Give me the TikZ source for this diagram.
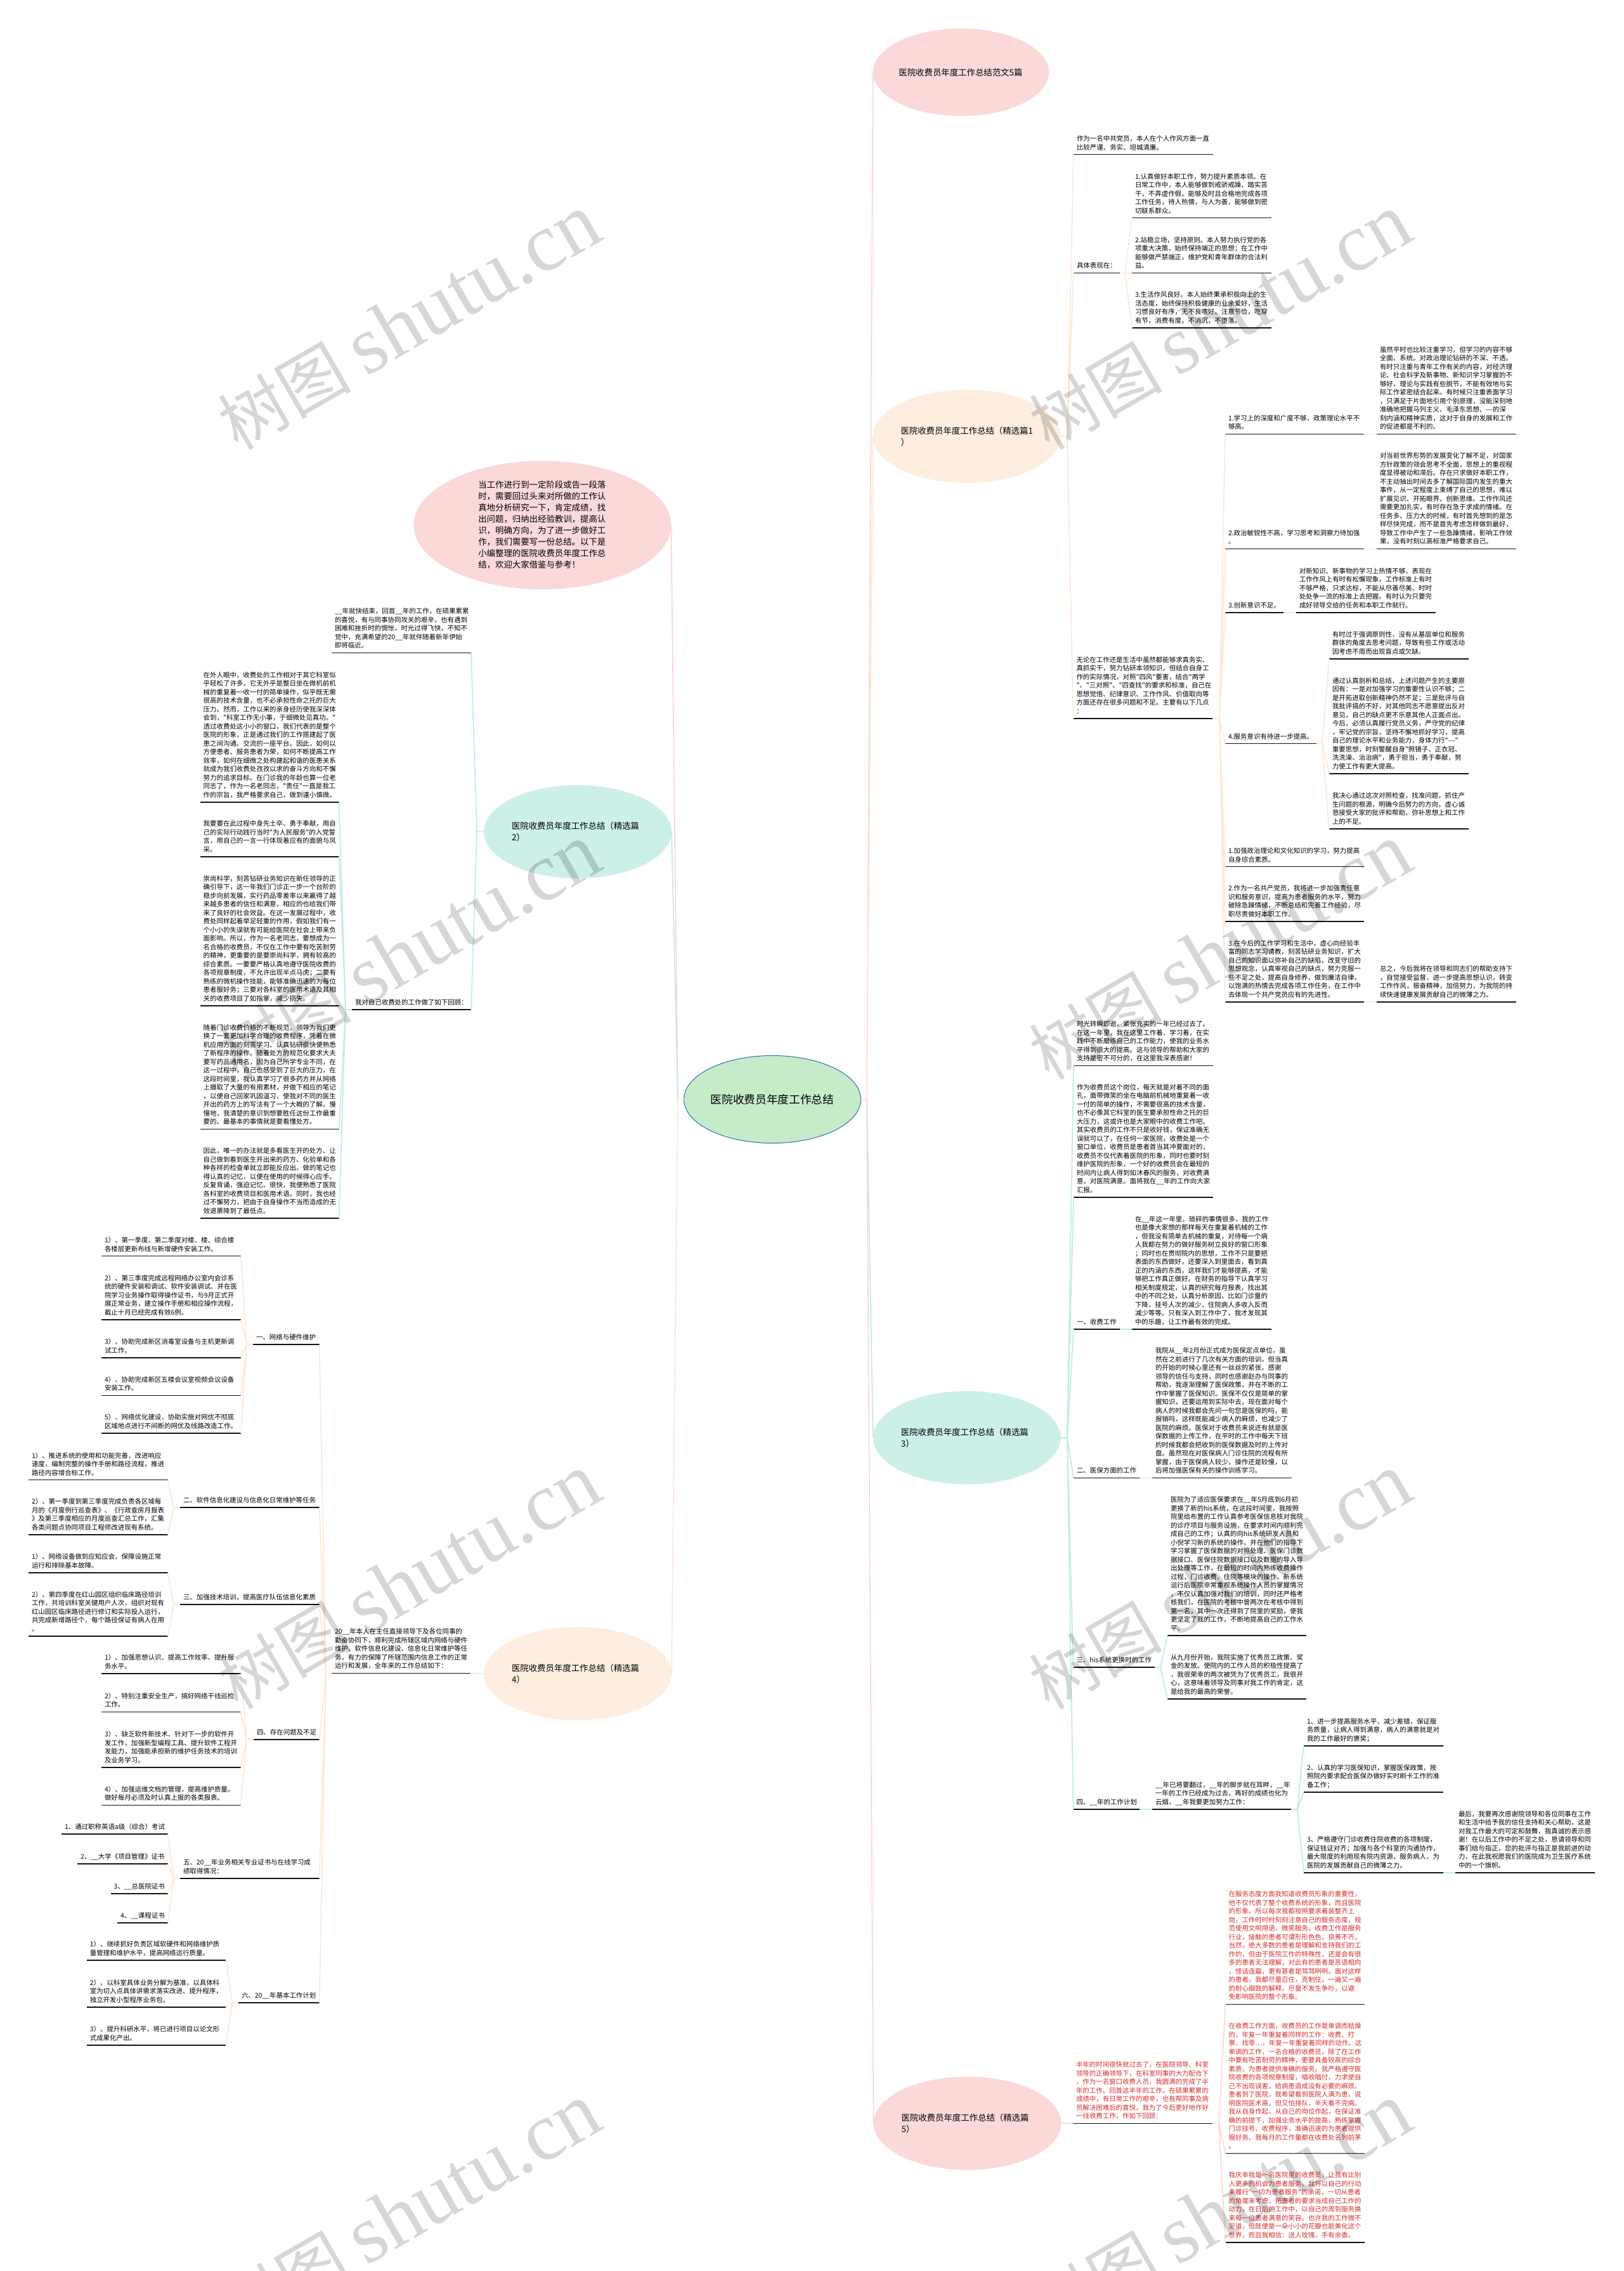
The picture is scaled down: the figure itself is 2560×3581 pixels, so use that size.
\documentclass[tikz,border=0pt]{standalone}
\usepackage{fontspec}
\usetikzlibrary{shapes.geometric}
\newfontfamily\cjk{Noto Sans CJK SC}
\newfontfamily\wmlat{Liberation Serif}
\definecolor{cpink}{HTML}{FBD9D9}
\definecolor{cpeach}{HTML}{FDEEDF}
\definecolor{cteal}{HTML}{CCF0E8}
\definecolor{cgreen}{HTML}{C6EBC9}
\definecolor{cblue}{HTML}{2A6FB0}
\definecolor{lpink}{HTML}{F9D5D5}
\definecolor{lpeach}{HTML}{FCE8D4}
\definecolor{lteal}{HTML}{BFEBE3}
\definecolor{cred}{HTML}{D92B2B}
\tikzset{
  leaf/.style={anchor=south west,inner xsep=5pt,inner ysep=3.5pt,outer sep=0pt,align=left,font=\cjk\fontsize{10.45}{13.5}\selectfont},
  ul/.style={draw=black!92,line width=1.6pt},
  big/.style={ellipse,inner sep=0pt,outer sep=0pt,minimum width=296pt,minimum height=147pt,align=left,text width=208pt,font=\cjk\fontsize{13.4}{18}\selectfont},
  lkpink/.style={draw=lpink,line width=1.6pt,line join=round},
  lkpeach/.style={draw=lpeach,line width=1.6pt,line join=round},
  lkteal/.style={draw=lteal,line width=1.6pt,line join=round},
  wm/.style={text=black,opacity=0.16,text opacity=0.16,inner sep=0pt}
}
\newcommand{\lf}[6][black]{%
  \pgfmathsetmacro\tw{#4-#3-10}%
  \node[leaf,text=#1,text width=\tw pt] (#2) at (#3,#5) {#6\strut};
  \draw[ul] (#2.south west) -- (#2.south east);
}
\begin{document}
\begin{tikzpicture}[x=1pt,y=-1pt]
\useasboundingbox (0,0) rectangle (2560,3581);
\fill[white] (0,0) rectangle (2560,3581);

% ---- big ellipses
\node[ellipse,draw=cblue,line width=1pt,fill=cgreen,inner sep=0pt,outer sep=0pt,minimum width=279pt,minimum height=138pt,font=\cjk\fontsize{17.7}{22}\selectfont] (root) at (1218,1733.5) {医院收费员年度工作总结};
\node[big,fill=cpink,minimum width=277pt,minimum height=138pt,text width=196pt] (title) at (1515.4,114) {医院收费员年度工作总结范文5篇};
\node[big,fill=cpink,minimum width=406pt,minimum height=202.6pt,text width=202pt] (intro) at (855.3,828) {当工作进行到一定阶段或告一段落\\时，需要回过头来对所做的工作认\\真地分析研究一下，肯定成绩，找\\出问题，归纳出经验教训，提高认\\识，明确方向，为了进一步做好工\\作，我们需要写一份总结。以下是\\小编整理的医院收费员年度工作总\\结，欢迎大家借鉴与参考！};
\node[big,fill=cpeach] (p1) at (1524.5,688) {医院收费员年度工作总结（精选篇1\\）};
\node[big,fill=cteal] (p2) at (911,1311.5) {医院收费员年度工作总结（精选篇\\2）};
\node[big,fill=cteal] (p3) at (1524.8,2267) {医院收费员年度工作总结（精选篇\\3）};
\node[big,fill=cpeach] (p4) at (911,2639) {医院收费员年度工作总结（精选篇\\4）};
\node[big,fill=cpink] (p5) at (1525.5,3348) {医院收费员年度工作总结（精选篇\\5）};

% ---- branch 1
\lf{a1}{1693}{1912.5}{243.6}{作为一名中共党员，本人在个人作风方面一直\\比较严谨、务实、坦城清廉。}
\lf{a2}{1693}{1766}{430.4}{具体表现在：}
\lf{b1}{1785}{2005}{343.6}{1.认真做好本职工作，努力提升素质本领。在\\日常工作中，本人能够做到戒骄戒躁，踏实苦\\干，不弄虚作假，能够及时且合格地完成各项\\工作任务，待人热情，与人为善，能够做到密\\切联系群众。}
\lf{b2}{1785}{2005}{430.4}{2.站稳立场，坚持原则。本人努力执行党的各\\项重大决策，始终保持端正的思想；在工作中\\能够做严禁端正，维护党和青年群体的合法利\\益。}
\lf{b3}{1785}{2005}{516.8}{3.生活作风良好。本人始终秉承积极向上的生\\活态度，始终保持积极健康的业余爱好，生活\\习惯良好有序，无不良嗜好。注意节俭，吃穿\\有节，消费有度，不消沉，不堕落。}
\lf{a3}{1692.5}{1912}{1132.8}{无论在工作还是生活中虽然都能够求真务实、\\真抓实干，努力钻研本领知识，但结合自身工\\作的实际情况，对照"四风"要害，结合"两学\\"、"三对照"、"四查找"的要求和标准，自己在\\思想觉悟、纪律意识、工作作风、价值取向等\\方面还存在很多问题和不足。主要有以下几点\\：}
\lf{c1}{1932}{2151}{684.5}{1.学习上的深度和广度不够，政策理论水平不\\够高。}
\lf{c1x}{2171}{2391}{684.5}{虽然平时也比较注重学习，但学习的内容不够\\全面、系统。对政治理论钻研的不深、不透。\\有时只注重与青年工作有关的内容，对经济理\\论、社会科学及新事物、新知识学习掌握的不\\够好，理论与实践有些脱节，不能有效地与实\\际工作紧密结合起来。有时候只注重表面学习\\，只满足于片面地引用个别原理，没能深刻地\\准确地把握马列主义、毛泽东思想、---的深\\刻内涵和精神实质，这对于自身的发展和工作\\的促进都是不利的。}
\lf{c2}{1932}{2151}{865.5}{2.政治敏锐性不高，学习思考和洞察力待加强\\。}
\lf{c2x}{2171}{2391}{865.5}{对当前世界形势的发展变化了解不足，对国家\\方针政策的领会思考不全面，思想上的重视程\\度显得被动和滞后。存在只求做好本职工作，\\不主动抽出时间去多了解国际国内发生的重大\\事件，从一定程度上束缚了自己的思想，难以\\扩展见识、开拓眼界、创新思维。工作作风还\\需要更加扎实，有时存在急于求成的情绪。在\\任务多、压力大的时候，有时首先想到的是怎\\样尽快完成，而不是首先考虑怎样做到最好，\\导致工作中产生了一些急躁情绪，影响工作效\\果，没有时刻以高标准严格要求自己。}
\lf{c3}{1932}{2024}{965.7}{3.创新意识不足。}
\lf{c3x}{2044}{2264}{965.7}{对新知识、新事物的学习上热情不够，表现在\\工作作风上有时有松懈现象，工作标准上有时\\不够严格，只求达标，不能从尽善尽美、时时\\处处争一流的标准上去把握。有时认为只要完\\成好领导交给的任务和本职工作就行。}
\lf{c4}{1932}{2076}{1172.6}{4.服务意识有待进一步提高。}
\lf{d1}{2096}{2316}{1038.7}{有时过于强调原则性，没有从基层单位和服务\\群体的角度去思考问题，导致有些工作或活动\\因考虑不周而出现盲点或欠缺。}
\lf{d2}{2096}{2316}{1220}{通过认真剖析和总结，上述问题产生的主要原\\因有：一是对加强学习的重要性认识不够；二\\是开拓进取创新精神仍然不足；三是批评与自\\我批评搞的不好，对其他同志不愿意提出反对\\意见，自己的缺点更不乐意其他人正面点出。\\今后，必须认真履行党员义务，严守党的纪律\\，牢记党的宗旨，坚持不懈地抓好学习，提高\\自己的理论水平和业务能力，身体力行"---"\\重要思想，时刻警醒自身"照镜子、正衣冠、\\洗洗澡、治治病"，勇于担当，勇于奉献，努\\力使工作有更大提高。}
\lf{d3}{2096}{2316}{1307}{我决心通过这次对照检查，找准问题，抓住产\\生问题的根源，明确今后努力的方向，虚心诚\\恳接受大家的批评和帮助，弥补思想上和工作\\上的不足。}
\lf{c5}{1932}{2151}{1366.6}{1.加强政治理论和文化知识的学习，努力提高\\自身综合素质。}
\lf{c6}{1932}{2151}{1452.7}{2.作为一名共产党员，我将进一步加强责任意\\识和服务意识，提高为患者服务的水平，努力\\破除急躁情绪，不断总结和完善工作经验，尽\\职尽责做好本职工作。}
\lf{c7}{1932}{2151}{1580}{3.在今后的工作学习和生活中，虚心向经验丰\\富的同志学习请教，刻苦钻研业务知识，扩大\\自己的知识面以弥补自己的缺陷，改变守旧的\\思想观念，认真审视自己的缺点，努力克服一\\些不足之处，提高自身修养，做到廉洁自律，\\以饱满的热情去完成各项工作任务，在工作中\\去体现一个共产党员应有的先进性。}
\lf{c7x}{2171}{2391}{1580}{总之，今后我将在领导和同志们的帮助支持下\\，自觉接受监督，进一步提高思想认识，转变\\工作作风，振奋精神，加倍努力，为我院的持\\续快速健康发展贡献自己的微薄之力。}

% ---- branch 3
\lf{e1}{1693}{1912.5}{1680.4}{时光转瞬即逝，紧张充实的一年已经过去了。\\在这一年里，我在这里工作着、学习着，在实\\践中不断磨练自己的工作能力，使我的业务水\\平得到很大的提高。这与领导的帮助和大家的\\支持是密不可分的，在这里我深表感谢！}
\lf{e2}{1693}{1912.5}{1888}{作为收费员这个岗位，每天就是对着不同的面\\孔，面带微笑的坐在电脑前机械地重复着一收\\一付的简单的操作，不需要很高的技术含量，\\也不必像其它科室的医生要承担性命之托的巨\\大压力，这或许也是大家眼中的收费工作吧。\\其实收费员的工作不只是收好钱，保证准确无\\误就可以了，在任何一家医院，收费处是一个\\窗口单位，收费员是患者首当其冲要面对的，\\收费员不仅代表着医院的形象，同时也要时刻\\维护医院的形象，一个好的收费员会在最短的\\时间内让病人得到如沐春风的服务，对收费满\\意，对医院满意。面将我在\_\_年的工作向大家\\汇报。}
\lf{e3}{1693}{1766}{2096}{一、收费工作}
\lf{e3x}{1785}{2005}{2096}{在\_\_年这一年里，琐碎的事情很多，我的工作\\也是像大家想的那样每天在重复着机械的工作\\，但我没有简单去机械的重复，对待每一个病\\人我都在努力的做好服务树立良好的窗口形象\\；同时也在贯彻院内的思想，工作不只是要把\\表面的东西做好，还要深入到里面去，看到真\\正的内涵的东西，这样我们才能够提高，才能\\够把工作真正做好。在财务的指导下认真学习\\相关制度规定，认真的研究每月报表，找出其\\中的不同之处，认真分析原因，比如门诊量的\\下降，挂号人次的减少，住院病人多收入反而\\减少等等。只有深入到工作中了，我才发现其\\中的乐趣，让工作最有效的完成。}
\lf{e4}{1693}{1797}{2330.5}{二、医保方面的工作}
\lf{e4x}{1817}{2037}{2330.5}{我院从\_\_年2月份正式成为医保定点单位，虽\\然在之前进行了几次有关方面的培训，但当真\\的开始的时候心里还有一丝丝的紧张，感谢\\领导的信任与支持，同时也感谢赵办与同事的\\帮助，我逐渐理解了医保政策，并在不断的工\\作中掌握了医保知识。医保不仅仅是简单的掌\\握知识，还要运用到实际中去，现在面对每个\\病人的时候我都会先问一句您是医保的吗，能\\报销吗，这样既能减少病人的麻烦，也减少了\\医院的麻烦。医保对于收费员来说还有就是医\\保数据的上传工作，在平时的工作中每天下班\\的时候我都会把收到的医保数据及时的上传对\\盘。虽然现在对医保病人门诊住院的流程有所\\掌握，由于医保病人较少，操作还是较慢，以\\后将加强医保有关的操作训练学习。}
\lf{e5}{1692.5}{1821}{2629}{三、his系统更换时的工作}
\lf{f1}{1841}{2060}{2579}{医院为了适应医保要求在\_\_年5月底到6月初\\更换了新的his系统，在这段时间里，我按照\\院里给布置的工作认真参考医保信息核对我院\\的诊疗项目与服务设施，在要求时间内顺利完\\成自己的工作；认真的向his系统研发人员和\\小倪学习新的系统的操作，并在他们的指导下\\学习掌握了医保数据的对照处理、医保门诊数\\据接口、医保住院数据接口以及数据的导入导\\出处理等工作，在最短的时间内熟练收费操作\\过程，门诊收费、住院等模块的操作。新系统\\运行后医院非常重视系统操作人员的掌握情况\\，不仅认真加强对我们的培训，同时还严格考\\核我们，在医院的考核中曾两次在考核中得到\\第一名，其中一次还得到了院里的奖励，使我\\更坚定了我的工作，不断地提高自己的工作水\\平。}
\lf{f2}{1841}{2060}{2679}{从九月份开始，我院实施了优秀员工政策、奖\\金的发放。使院内的工作人员的积极性提高了\\，我很荣幸的两次被凭为了优秀员工，我很开\\心，这意味着领导及同事对我工作的肯定，这\\是给我的最高的荣誉。}
\lf{e6}{1692.5}{1797}{2852.7}{四、\_\_年的工作计划}
\lf{e6x}{1817}{2036}{2852.7}{\_\_年已将要翻过，\_\_年的脚步就在耳畔，\_\_年\\一年的工作已经成为过去，再好的成绩也化为\\云烟，\_\_年我要更加努力工作：}
\lf{g1}{2056}{2275.5}{2752.7}{1、进一步提高服务水平，减少差错，保证服\\务质量，让病人得到满意，病人的满意就是对\\我的工作最好的褒奖；}
\lf{g2}{2056}{2275.5}{2826}{2、认真的学习医保知识，掌握医保政策，按\\照院内要求配合医保办做好实时刷卡工作的准\\备工作；}
\lf{g3}{2056}{2275.5}{2952.7}{3、严格遵守门诊收费住院收费的各项制度，\\保证钱证对齐；加强与各个科室的沟通协作，\\最大限度的利用现有院内资源，服务病人，为\\医院的发展贡献自己的微薄之力。}
\lf{g3x}{2295}{2515}{2952.7}{最后，我要再次感谢院领导和各位同事在工作\\和生活中给予我的信任支持和关心帮助，这是\\对我工作最大的可定和鼓舞，我真诚的表示感\\谢！在以后工作中的不足之处，恳请领导和同\\事们给与指正，您的批评与指正是我前进的动\\力，在此我祝愿我们的医院成为卫生医疗系统\\中的一个旗帜。}

% ---- branch 5
\lf[cred]{h1}{1692}{1912}{3348.4}{半年的时间很快就过去了，在医院领导、科室\\领导的正确领导下，在科室同事的大力配合下\\，作为一名窗口收费人员，我圆满的完成了半\\年的工作。回首这半年的工作，在硕果累累的\\成绩中，有日常工作的艰辛，也有帮同事及病\\员解决困难后的喜悦，我为了今后更好地作好\\一线收费工作，作如下回顾：}
\lf[cred]{j1}{1932.6}{2152}{3160.5}{在服务态度方面我知道收费员形象的重要性，\\他不仅代表了整个收费系统的形象，而且医院\\的形象。所以每次我都按照要求着装整齐上\\岗，工作时时时刻刻注意自己的服务态度，规\\范使用文明用语，微笑服务。收费工作是服务\\行业，接触的患者可谓形形色色，良莠不齐。\\当然，绝大多数的患者是理解和支持我们的工\\作的，但由于医院工作的特殊性，还是会有很\\多的患者无法理解，对此有的患者是恶语相向\\，怪话连篇，更有甚者是骂骂咧咧。面对这样\\的患者，我都尽量忍住，克制住，一遍又一遍\\的耐心细致的解释，尽量不发生争吵，以避\\免影响医院的整个形象。}
\lf[cred]{j2}{1932.6}{2152}{3395.5}{在收费工作方面，收费员的工作是单调而枯燥\\的，年复一年重复着同样的工作：收费、打\\票、找零…，年复一年重复着同样的动作。这\\单调的工作，一名合格的收费员，除了在工作\\中要有吃苦耐劳的精神，更要具备较高的综合\\素质，为患者提供准确的服务。我严格遵守医\\院收费的各项规章制度，唱收唱付，力求使自\\己不出现误差，给病患造成没有必要的麻烦。\\患者到了医院，既希望看到医院人满为患，说\\明医院医术高，但又怕排队，半天看不完病。\\我从自身作起，从自己的岗位作起，在保证准\\确的前提下，加强业务水平的提高，熟练掌握\\门诊挂号、收费程序，准确迅速的为患者提供\\服好务。我每月的工作量都在收费处名列前茅\\。}
\lf[cred]{j3}{1932.6}{2152}{3536}{我庆幸我是一名医院里的收费员，让我有比别\\人更多的机会为患者服务。我将以自己的行动\\来履行"一切为患者服务"的承诺，一切从患者\\的角度来考虑，把患者的要求当成自己工作的\\动力，在日后的工作中，以自己的周到服务换\\来每一位患者满意的笑容。也许我的工作微不\\足道，但既便是一朵小小的花瓣也能美化这个\\世界，而且我相信：送人玫瑰，手有余香。}

% ---- branch 2
\lf{k1}{523}{743}{1029.5}{\_\_年就快结束，回首\_\_年的工作，在硕果累累\\的喜悦，有与同事协同攻关的艰辛，也有遇到\\困难和挫折时的惆怅，时光过得飞快，不知不\\觉中，充满希望的20\_\_年就伴随着新年伊始\\即将临近。}
\lf{k2}{555}{743}{1592}{我对自己收费处的工作做了如下回顾：}
\lf{l1}{315.7}{534.6}{1264.8}{在外人眼中，收费处的工作相对于其它科室似\\乎轻松了许多，它无外乎是整日坐在微机前机\\械的重复着一收一付的简单操作，似乎既无需\\很高的技术含量，也不必承担性命之托的巨大\\压力。然而，工作以来的亲身经历使我深深体\\会到，"科室工作无小事，于细微处见真功。"\\透过收费处这小小的窗口，我们代表的是整个\\医院的形象，正是通过我们的工作搭建起了医\\患之间沟通、交流的一座平台。因此，如何以\\方便患者、服务患者为荣，如何不断提高工作\\效率，如何在细微之处构建起和谐的医患关系\\就成为我们收费处孜孜以求的奋斗方向和不懈\\努力的追求目标。在门诊我的年龄也算一位老\\同志了，作为一名老同志，"责任"一直是我工\\作的宗旨，我严格要求自己，做到谨小慎微。}
\lf{l2}{315.7}{534.6}{1350.7}{我要要在此过程中身先士卒、勇于奉献，用自\\己的实际行动践行当时"为人民服务"的入党誓\\言，用自己的一言一行体现着应有的面貌与风\\采。}
\lf{l3}{315.7}{534.6}{1585.7}{崇尚科学，刻苦钻研业务知识在新任领导的正\\确引导下，这一年我们门诊正一步一个台阶的\\稳步向前发展，实行药品零差率以来赢得了越\\来越多患者的信任和满意，相应的也给我们带\\来了良好的社会效益。在这一发展过程中，收\\费处同样起着举足轻重的作用，假如我们有一\\个小小的失误就有可能给医院在社会上带来负\\面影响。所以，作为一名老同志，要想成为一\\名合格的收费员，不仅在工作中要有吃苦耐劳\\的精神，更重要的是要崇尚科学，拥有较高的\\综合素质。一要要严格认真地遵守医院收费的\\各项规章制度，不允许出现半点马虎；二要有\\熟练的微机操作技能，能够准确迅速的为每位\\患者服好务；三要对各科室的医用术语及其相\\关的收费项目了如指掌，减少损失。}
\lf{l4}{315.7}{534.6}{1780.4}{随着门诊收费价格的不断规范，领导为我们更\\换了一套更加科学合理的收费程序，凭着在微\\机应用方面的刻苦学习、认真钻研很快便熟悉\\了新程序的操作。随着处方的规范化要求大夫\\要写药品通用名，因为自己所学专业不同，在\\这一过程中，自己也感受到了巨大的压力，在\\这段时间里，我认真学习了很多药方并从网络\\上摄取了大量的有用素材，并做下相应的笔记\\，以便自己回家巩固温习，使我对不同的医生\\开出的药方上的写法有了一个大概的了解。慢\\慢地，我清楚的意识到想要胜任这份工作最重\\要的、最基本的事情就是要看懂处方。}
\lf{l5}{315.7}{534.6}{1920.8}{因此，唯一的办法就是多看医生开的处方、让\\自己做到看到医生开出来的药方、化验单和各\\种各样的检查单就立即能反应出。做的笔记也\\得认真的记忆，以便在使用的时候得心应手。\\反复背诵，强迫记忆、很快，我便熟悉了医院\\各科室的收费项目和医用术语。同时，我也经\\过不懈努力，把由于自身操作不当而造成的无\\效退票降到了最低点。}

% ---- branch 4
\lf{m0}{523}{742}{2638.3}{20\_\_年本人在主任直接领导下及各位同事的\\勤奋协同下，顺利完成所辖区域内网络与硬件\\维护、软件信息化建设、信息化日常维护等任\\务，有力的保障了所辖范围内信息工作的正常\\运行和发展，全年来的工作总结如下：}
\lf{m1}{399}{503.6}{2120}{一、网络与硬件维护}
\lf{n1}{160}{380}{1980.6}{1）、第一季度、第二季度对楼、楼、综合楼\\各楼层更新布线与新增硬件安装工作。}
\lf{n2}{160}{380}{2080.8}{2）、第三季度完成远程网络办公室内会诊系\\统的硬件安装和调试、软件安装调试、并在医\\院学习业务操作取得操作证书，与9月正式开\\展正常业务，建立操作手册和相应操作流程，\\截止十月已经完成有效6例。}
\lf{n3}{160}{380}{2141}{3）、协助完成新区消毒室设备与主机更新调\\试工作。}
\lf{n4}{160}{380}{2200.5}{4）、协助完成新区五楼会议室视频会议设备\\安装工作。}
\lf{n5}{160}{380}{2260}{5）、网络优化建设，协助实施对网优不彻底\\区域地点进行不间断的网优及线路改造工作。}
\lf{m2}{284}{503.6}{2377}{二、软件信息化建设与信息化日常维护等任务}
\lf{q1a}{45}{264.5}{2333.6}{1）、推进系统的使用和功能完善，改进响应\\速度，编制完整的操作手册和路径流程，推进\\路径内容增合标工作。}
\lf{q1b}{45}{264.5}{2420}{2）、第一季度到第三季度完成负责各区域每\\月的《月度例行巡查表》、《行政查房月报表\\》及第三季度相应的月度巡查汇总工作，汇集\\各类问题点协同项目工程师改进现有系统。}
\lf{m3}{284}{503.6}{2530}{三、加强技术培训，提高医疗队伍信息化素质}
\lf{q2a}{45}{264.5}{2480}{1）、网络设备做到应知应会，保障设施正常\\运行和排除基本故障。}
\lf{q2b}{45}{264.5}{2580}{2）、第四季度在红山园区组织临床路径培训\\工作，共培训科室关键用户人次，组织对现有\\红山园区临床路径进行修订和实际投入运行，\\共完成新增路径个，每个路径保证有病人在用\\。}
\lf{m4}{400}{503.6}{2743}{四、存在问题及不足}
\lf{r1}{160}{379.5}{2639}{1）、加强思想认识、提高工作效率、提升服\\务水平。}
\lf{r2}{160}{379.5}{2699.5}{2）、特别注重安全生产，搞好网络干线巡检\\工作。}
\lf{r3}{160}{379.5}{2786.7}{3）、缺乏软件新技术、针对下一步的软件开\\发工作，加强新型编程工具、提升软件工程开\\发能力，加强能承担新的维护任务技术的培训\\及业务学习。}
\lf{r4}{160}{379.5}{2846.4}{4）、加强运维文档的管理，提高维护质量。\\做好每月必须及时认真上报的各类报表。}
\lf{m5}{284}{503.6}{2961.7}{五、20\_\_年业务相关专业证书与在线学习成\\绩取得情况：}
\lf{s1}{97}{264.5}{2892}{1、通过职称英语a级（综合）考试}
\lf{s2}{122}{264.5}{2939}{2、\_\_大学《项目管理》证书}
\lf{s3}{174.7}{264.5}{2985.7}{3、\_\_总医院证书}
\lf{s4}{185}{264.5}{3032}{4、\_\_课程证书}
\lf{m6}{376}{503.6}{3158}{六、20\_\_年基本工作计划}
\lf{t1}{136.8}{356.4}{3091}{1）、继续抓好负责区域软硬件和网络维护质\\量管理和维护水平，提高网络运行质量。}
\lf{t2}{136.8}{356.4}{3165}{2）、以科室具体业务分解为基准，以具体科\\室为切入点具体讲需求落实改进、提升程序，\\独立开发小型程序业务包。}
\lf{t3}{136.8}{356.4}{3225}{3）、提升科研水平，将已进行项目以论文形\\式成果化产出。}

% ---- fan points
\coordinate (rr) at (1367,1733.5);
\coordinate (rl) at (1069,1733.5);
\coordinate (fp1) at (1683,688);
\coordinate (fa2) at (1774,430.4);
\coordinate (fa3) at (1923,1132.8);
\coordinate (fc4) at (2085,1172.6);
\coordinate (fp3) at (1683,2267);
\coordinate (fe5) at (1830,2629);
\coordinate (fe6) at (2046,2852.7);
\coordinate (fh) at (1922,3348.4);
\coordinate (fp2) at (752,1311.5);
\coordinate (fk) at (545,1592);
\coordinate (fp4) at (514,2638.3);
\coordinate (fm1) at (389,2120);
\coordinate (fm2) at (274,2377);
\coordinate (fm3) at (274,2530);
\coordinate (fm4) at (389,2743);
\coordinate (fm5) at (274,2961.7);
\coordinate (fm6) at (366,3158);

% ---- connectors
\draw[lkpink] (root.east) -- (rr) -- (title.west);
\draw[lkpeach] (root.east) -- (rr) -- (p1.west);
\draw[lkteal] (rr) -- (p3.west);
\draw[lkpink] (rr) -- (p5.west);
\draw[lkpeach] (root.west) -- (rl);
\draw[lkpink] (rl) -- (intro.east);
\draw[lkteal] (rl) -- (p2.east);
\draw[lkpeach] (rl) -- (p4.east);

\draw[lkpeach] (p1.east) -- (fp1);
\foreach \c in {a1,a2,a3} \draw[lkpeach] (fp1) -- (\c.south west);
\draw[lkpeach] (a2.south east) -- (fa2);
\foreach \c in {b1,b2,b3} \draw[lkpeach] (fa2) -- (\c.south west);
\draw[lkpeach] (a3.south east) -- (fa3);
\foreach \c in {c1,c2,c3,c4,c5,c6,c7} \draw[lkpeach] (fa3) -- (\c.south west);
\draw[lkpeach] (c1.south east) -- (c1x.south west);
\draw[lkpeach] (c2.south east) -- (c2x.south west);
\draw[lkpeach] (c3.south east) -- (c3x.south west);
\draw[lkpeach] (c7.south east) -- (c7x.south west);
\draw[lkpeach] (c4.south east) -- (fc4);
\foreach \c in {d1,d2,d3} \draw[lkpeach] (fc4) -- (\c.south west);

\draw[lkteal] (p3.east) -- (fp3);
\foreach \c in {e1,e2,e3,e4,e5,e6} \draw[lkteal] (fp3) -- (\c.south west);
\draw[lkteal] (e3.south east) -- (e3x.south west);
\draw[lkteal] (e4.south east) -- (e4x.south west);
\draw[lkteal] (e5.south east) -- (fe5);
\foreach \c in {f1,f2} \draw[lkteal] (fe5) -- (\c.south west);
\draw[lkteal] (e6.south east) -- (e6x.south west);
\draw[lkteal] (e6x.south east) -- (fe6);
\foreach \c in {g1,g2,g3} \draw[lkteal] (fe6) -- (\c.south west);
\draw[lkteal] (g3.south east) -- (g3x.south west);

\draw[lkpink] (p5.east) -- (h1.south west);
\draw[lkpink] (h1.south east) -- (fh);
\foreach \c in {j1,j2,j3} \draw[lkpink] (fh) -- (\c.south west);

\draw[lkteal] (p2.west) -- (fp2);
\foreach \c in {k1,k2} \draw[lkteal] (fp2) -- (\c.south east);
\draw[lkteal] (k2.south west) -- (fk);
\foreach \c in {l1,l2,l3,l4,l5} \draw[lkteal] (fk) -- (\c.south east);

\draw[lkpeach] (p4.west) -- (m0.south east);
\draw[lkpeach] (m0.south west) -- (fp4);
\foreach \c in {m1,m2,m3,m4,m5,m6} \draw[lkpeach] (fp4) -- (\c.south east);
\draw[lkpeach] (m1.south west) -- (fm1);
\foreach \c in {n1,n2,n3,n4,n5} \draw[lkpeach] (fm1) -- (\c.south east);
\draw[lkpeach] (m2.south west) -- (fm2);
\foreach \c in {q1a,q1b} \draw[lkpeach] (fm2) -- (\c.south east);
\draw[lkpeach] (m3.south west) -- (fm3);
\foreach \c in {q2a,q2b} \draw[lkpeach] (fm3) -- (\c.south east);
\draw[lkpeach] (m4.south west) -- (fm4);
\foreach \c in {r1,r2,r3,r4} \draw[lkpeach] (fm4) -- (\c.south east);
\draw[lkpeach] (m5.south west) -- (fm5);
\foreach \c in {s1,s2,s3,s4} \draw[lkpeach] (fm5) -- (\c.south east);
\draw[lkpeach] (m6.south west) -- (fm6);
\foreach \c in {t1,t2,t3} \draw[lkpeach] (fm6) -- (\c.south east);

% ---- watermarks
\foreach \i/\wx/\wy in {1/645/508,2/1924/508,3/645/1501,4/1924/1501,5/645/2494,6/1924/2494,7/645/3487,8/1924/3487}
  \node[wm,rotate=30] (w\i) at (\wx,\wy) {\cjk\fontsize{105}{105}\selectfont 树图 \wmlat\fontsize{130}{130}\selectfont shutu.cn};
\end{tikzpicture}
\end{document}
